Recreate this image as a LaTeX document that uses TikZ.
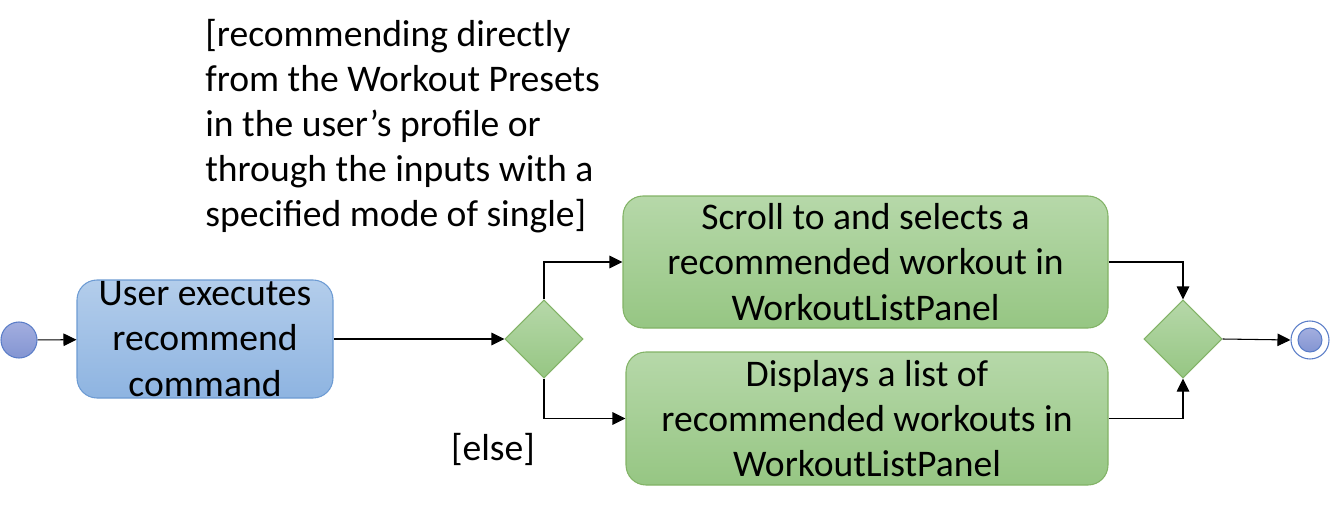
\documentclass[tikz,border=0pt]{standalone}
\usepackage{fontspec}
\setmainfont{Carlito}
\usetikzlibrary{arrows.meta, shapes.geometric}
\definecolor{actfilltop}{HTML}{B3CDEB}
\definecolor{actfillbot}{HTML}{8EB4E1}
\definecolor{actborder}{HTML}{6D9BD3}
\definecolor{stepfilltop}{HTML}{B6D8A9}
\definecolor{stepfillbot}{HTML}{96C683}
\definecolor{stepborder}{HTML}{82B366}
\definecolor{dotfilltop}{HTML}{A3AEDF}
\definecolor{dotfillbot}{HTML}{8395D2}
\definecolor{dotborder}{HTML}{5A7DC8}
\definecolor{darkline}{HTML}{000000}
\tikzset{
  label-text/.style={
    font=\fontsize{21.4}{25.7}\selectfont,
    inner sep=0pt
  },
  box/.style={
    rectangle,
    rounded corners=0.4cm,
    align=center,
    line width=0.6pt,
    inner sep=0pt,
    label-text
  },
  action/.style={
    box,
    top color=actfilltop,
    bottom color=actfillbot,
    draw=actborder
  },
  activity/.style={
    box,
    top color=stepfilltop,
    bottom color=stepfillbot,
    draw=stepborder
  },
  decision/.style={
    diamond,
    aspect=1,
    inner sep=0pt,
    minimum size=1.56cm,
    top color=stepfilltop,
    bottom color=stepfillbot,
    draw=stepborder,
    line width=0.6pt
  },
  startdot/.style={
    circle,
    inner sep=0pt,
    minimum size=0.72cm,
    top color=dotfilltop,
    bottom color=dotfillbot,
    draw=dotborder,
    line width=0.6pt
  },
  enddot/.style={
    circle,
    inner sep=0pt,
    minimum size=0.76cm,
    fill=white,
    draw=dotborder,
    line width=0.6pt
  },
  flow/.style={
    -{Triangle[length=0.26cm, width=0.25cm]},
    line width=0.6pt,
    draw=darkline
  }
}
\begin{document}
\begin{tikzpicture}

\useasboundingbox (0,0) rectangle (26.6,10.18);

% Start and first action.
\node[startdot] (start) at (0.38, 3.38) {};
\node[action, minimum width=5.12cm, minimum height=2.36cm] (execute) at (4.1, 3.40) {User executes\\recommend\\command};

% Guards.
\node[label-text, align=left, anchor=west] (guardtop) at (4.1, 7.66) {[recommending directly\\from the Workout Presets\\in the user’s profile or\\through the inputs with a\\specified mode of single]};
\node[label-text] (guardelse) at (9.86, 1.20) {[else]};

% Branch.
\node[decision] (split) at (10.88, 3.40) {};
\node[activity, minimum width=9.7cm, minimum height=2.64cm] (scroll) at (17.31, 4.94) {Scroll to and selects a\\recommended workout in\\WorkoutListPanel};
\node[activity, minimum width=9.64cm, minimum height=2.66cm] (display) at (17.34, 1.81) {Displays a list of\\recommended workouts in\\WorkoutListPanel};

% Merge and end.
\node[decision] (merge) at (23.66, 3.40) {};
\node[enddot] (finish) at (26.2, 3.38) {};
\node[circle, inner sep=0pt, minimum size=0.48cm, top color=dotfilltop, bottom color=dotfillbot, draw=dotborder, line width=0.6pt] (finishcore) at (finish) {};

% Flows.
\draw[flow] (start) -- (execute);
\draw[flow] (execute.east) -- (split.west);
\draw[flow] (split.north) |- (scroll.west);
\draw[flow] (split.south) |- (display.west);
\draw[flow] (scroll.east) -| (merge.north);
\draw[flow] (display.east) -| (merge.south);
\draw[flow] (merge.east) -- (finish.west);

\end{tikzpicture}
\end{document}
